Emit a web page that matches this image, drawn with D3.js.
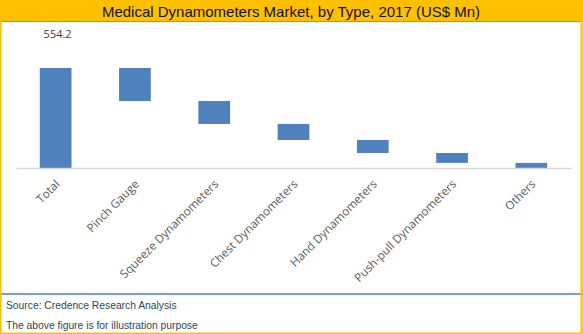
<!DOCTYPE html>
<html>
<head>
<meta charset="utf-8">
<script src="https://cdn.jsdelivr.net/npm/d3@7"></script>
<style>
  html, body { margin: 0; padding: 0; background: #fff; }
  svg { display: block; }
</style>
</head>
<body>
<script>
// Waterfall: total market split by product type (US$ Mn)
const categories = ["Total", "Pinch Gauge", "Squeeze Dynamometers", "Chest Dynamometers",
                    "Hand Dynamometers", "Push-pull Dynamometers", "Others"];
const totalValue = 554.2;
const segmentValues = [183, 127, 89, 72, 55, 28.2];
const yTicks = [0, 600];

const W = 583, H = 334;
const svg = d3.select("body").append("svg").attr("width", W).attr("height", H);

// frame and header
svg.append("rect").attr("x", 0).attr("y", 0).attr("width", W).attr("height", H).attr("fill", "#fff");
svg.append("rect").attr("x", 0).attr("y", 0).attr("width", W).attr("height", 21).attr("fill", "#FFC000");
svg.append("line").attr("x1", 0).attr("x2", W).attr("y1", 21.5).attr("y2", 21.5)
  .attr("stroke", "#7f95b0").attr("stroke-width", 1);
svg.append("text").attr("x", 291).attr("y", 16.5).attr("text-anchor", "middle")
  .attr("font-family", "Liberation Sans, Arial, sans-serif").attr("font-size", 15)
  .attr("fill", "#111").text("Medical Dynamometers Market, by Type, 2017 (US$ Mn)");

// footer
svg.append("line").attr("x1", 0).attr("x2", W).attr("y1", 294).attr("y2", 294)
  .attr("stroke", "#4F81BD").attr("stroke-width", 1.5);
const foot = svg.append("g").attr("font-family", "Liberation Sans, Arial, sans-serif")
  .attr("font-size", 10.3).attr("fill", "#2b4858");
foot.append("text").attr("x", 6).attr("y", 308.5).text("Source: Credence Research Analysis");
foot.append("text").attr("x", 6).attr("y", 329).text("The above figure is for illustration purpose");

// yellow border
svg.append("rect").attr("x", 0.75).attr("y", 0.75).attr("width", W - 2).attr("height", H - 1.5)
  .attr("fill", "none").attr("stroke", "#FFC000").attr("stroke-width", 1.5);
svg.append("line").attr("x1", 581.5).attr("x2", 581.5).attr("y1", 0).attr("y2", H)
  .attr("stroke", "#FFC000").attr("stroke-width", 2);

// scales
const x = d3.scaleBand().domain(categories).range([16, 571]).paddingInner(0.6).paddingOuter(0.3);
const y = d3.scaleLinear().domain(d3.extent(yTicks)).range([168, 59.75]);

// build waterfall steps
const steps = [{ name: categories[0], start: 0, end: totalValue }];
let level = totalValue;
segmentValues.forEach((v, i) => {
  steps.push({ name: categories[i + 1], start: level - v, end: level });
  level -= v;
});

svg.append("g").selectAll("rect").data(steps).join("rect")
  .attr("x", d => x(d.name))
  .attr("width", x.bandwidth())
  .attr("y", d => y(d.end))
  .attr("height", d => y(d.start) - y(d.end))
  .attr("fill", "#4F81BD");

// baseline axis
const axis = svg.append("g").attr("transform", `translate(0,${y(0)})`)
  .call(d3.axisBottom(x).tickSize(0).tickFormat(""));
axis.select(".domain").attr("stroke", "#d9d9d9").attr("stroke-width", 1.5);

// rotated category labels
svg.append("g").selectAll("text").data(categories).join("text")
  .attr("transform", d => `translate(${x(d) + x.bandwidth() / 2 - 1},${179}) rotate(-45)`)
  .attr("text-anchor", "end")
  .attr("dy", "0.71em")
  .attr("font-family", "Open Sans, sans-serif")
  .attr("font-size", 11.7)
  .attr("fill", "#595959")
  .text(d => d);

// total value label
svg.append("text")
  .attr("x", x("Total") + x.bandwidth() / 2 + 2).attr("y", 37.5)
  .attr("text-anchor", "middle")
  .attr("font-family", "Open Sans, sans-serif").attr("font-size", 11)
  .attr("fill", "#404040").text(totalValue.toFixed(1));
</script>
</body>
</html>
